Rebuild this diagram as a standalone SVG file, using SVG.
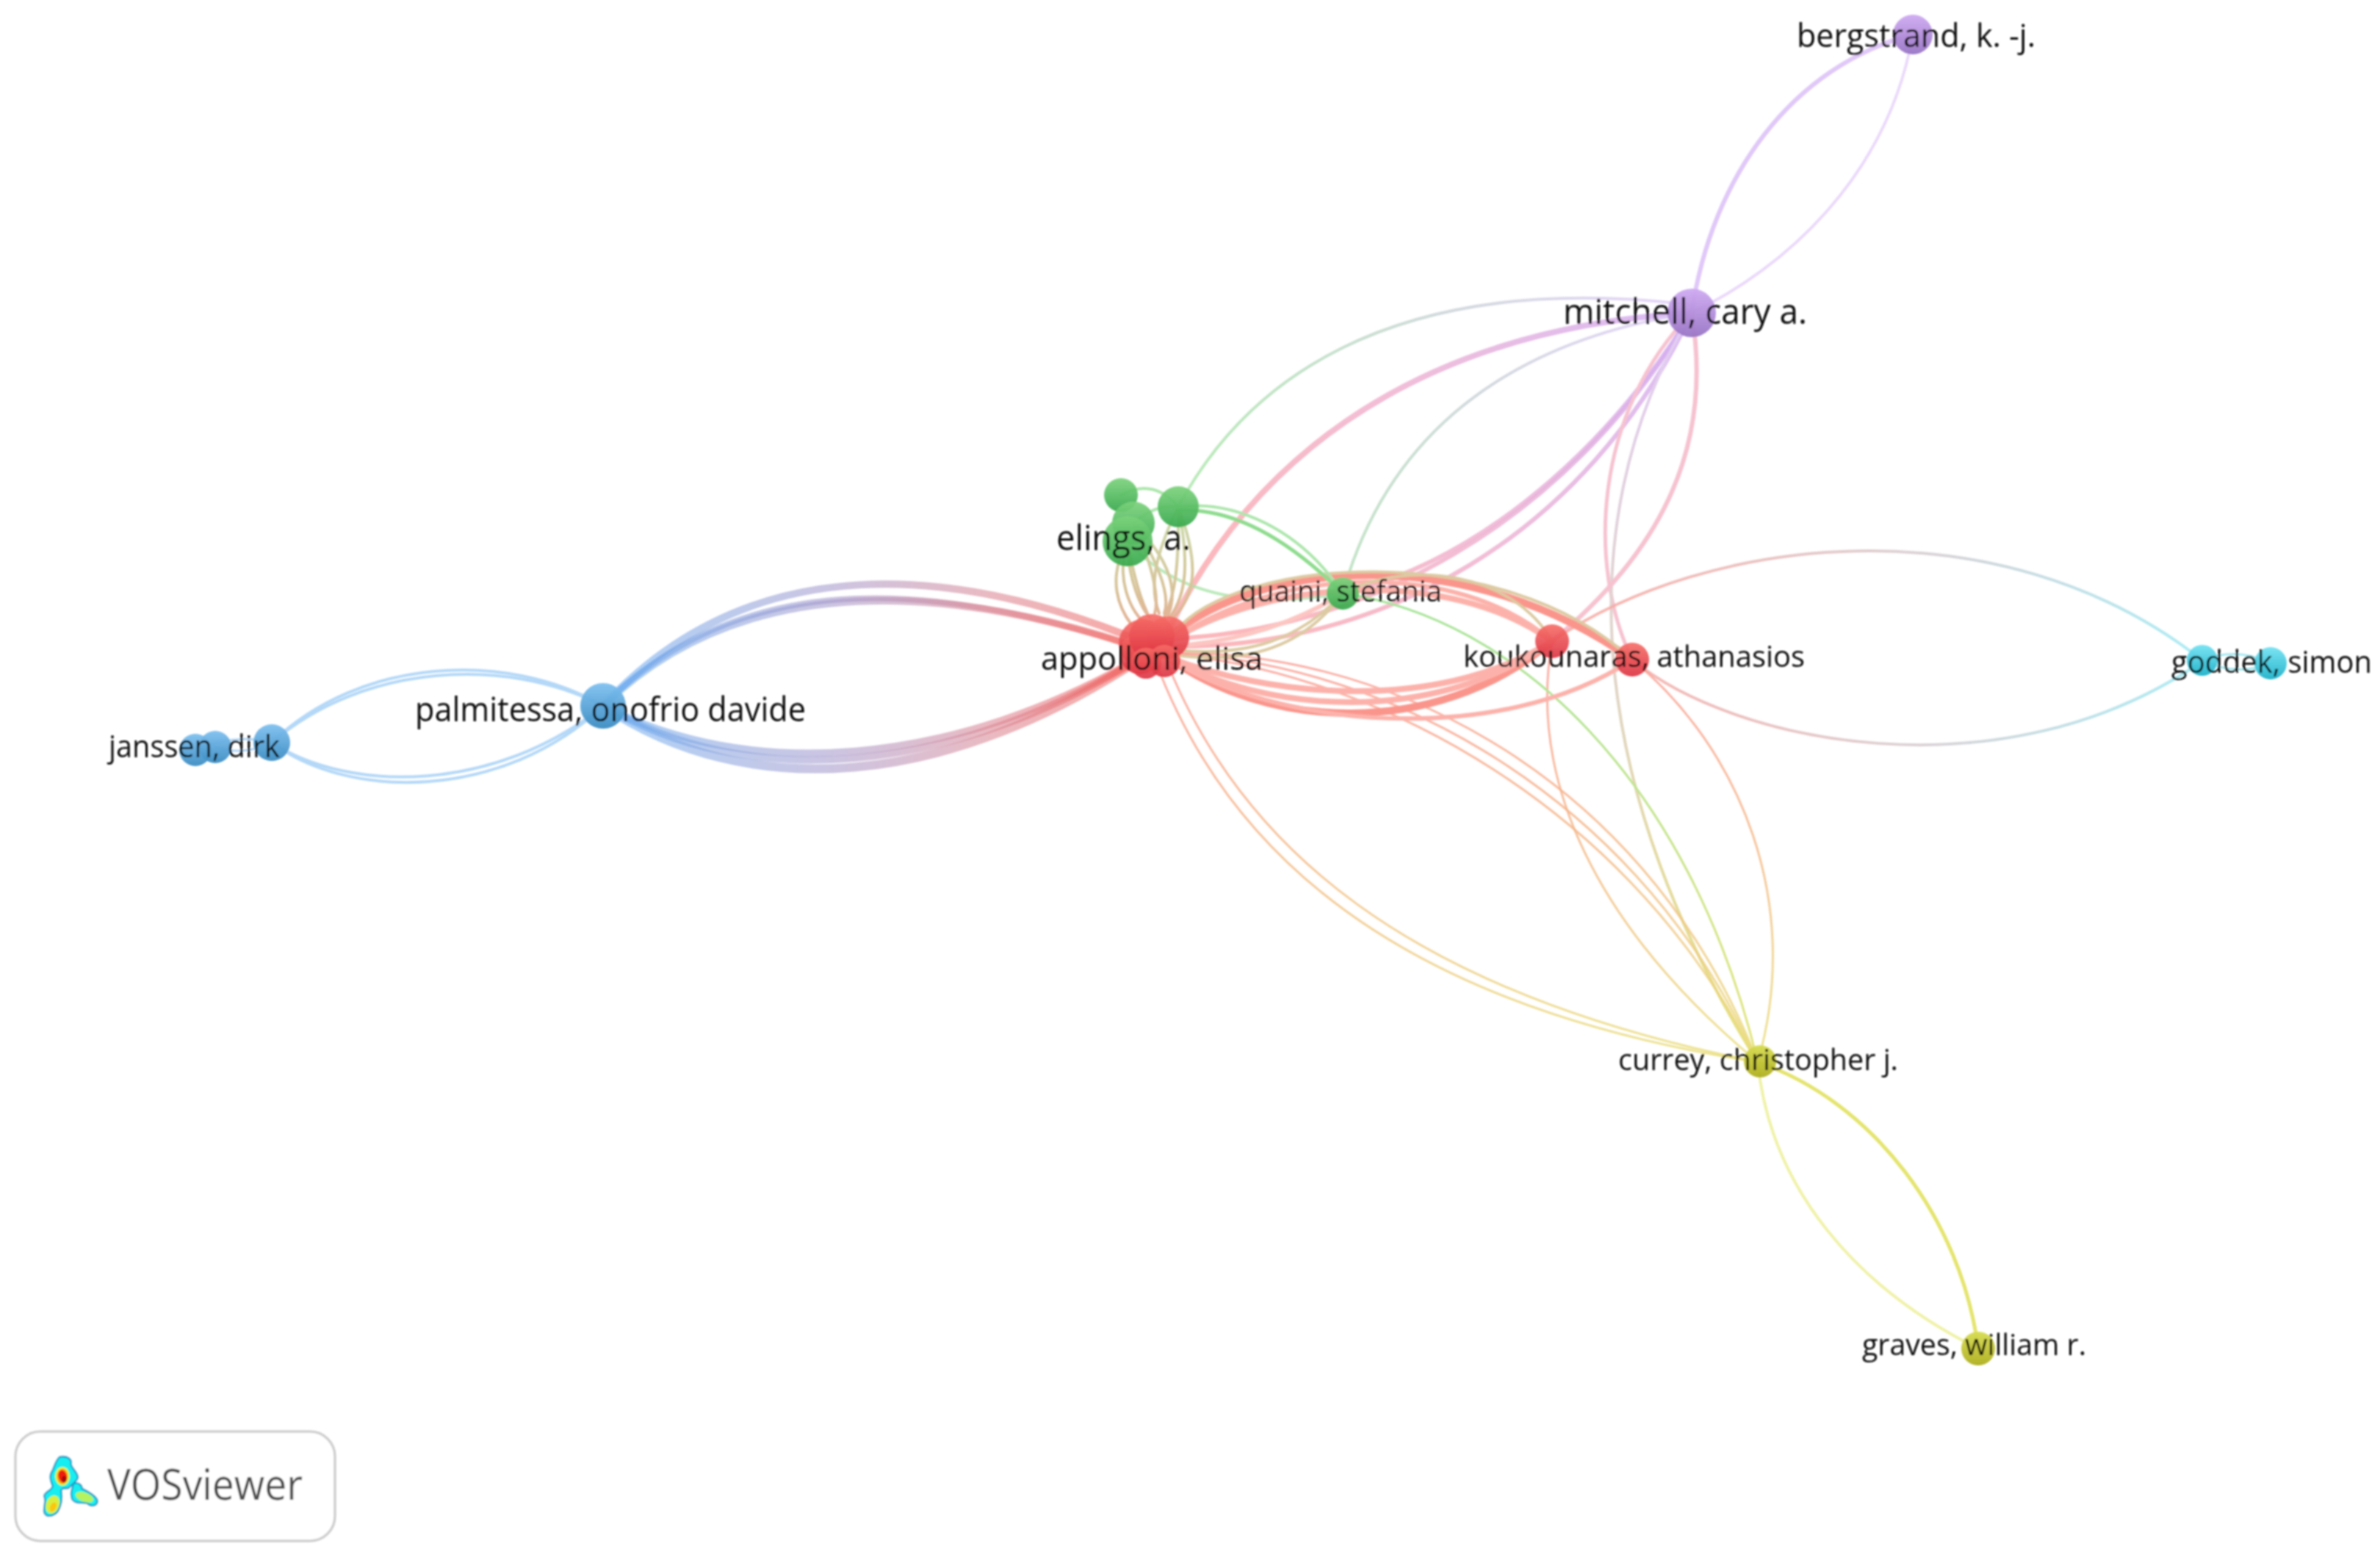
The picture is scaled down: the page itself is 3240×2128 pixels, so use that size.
<svg xmlns="http://www.w3.org/2000/svg" width="3240" height="2128" viewBox="0 0 3240 2128">
<style>
text{font-family:"Open Sans","Noto Sans","Liberation Sans",sans-serif;fill:#0c0c0c}
.e{fill:none;stroke-linecap:round}
.w3{stroke-width:3}.w4{stroke-width:4}.w5{stroke-width:5}.w6{stroke-width:6}.w8{stroke-width:8}.w10{stroke-width:10}.w12{stroke-width:12}
.br{stroke:url(#gBR);opacity:.55}.lb{stroke:#b4d8f8}.ppr{stroke:url(#gPR);opacity:.82}.gp{stroke:url(#gGP);opacity:.75}.rc{stroke:url(#gRC);opacity:.85}.ry{stroke:url(#gRY);opacity:.8}.py{stroke:url(#gPY)}.gy{stroke:url(#gGY)}.gr{stroke:url(#gGR)}
.lav{stroke:#e0c8f8}.lav2{stroke:#ead9fb}.coral{stroke:#fa958c}.coral2{stroke:#fcb2ab}.pale{stroke:#fcc6c2}.olive{stroke:#dccaa2}.lg{stroke:#ace6ac}.lg2{stroke:#8edc8e}.yel{stroke:#e4e46c}.yel2{stroke:#eff2a6}.cy{stroke:#a6e8f0}.pk{stroke:#f6c2d0}
.red{fill:url(#nR)}.grn{fill:url(#nG)}.blu{fill:url(#nB)}.pur{fill:url(#nP)}.cyn{fill:url(#nC)}.ylw{fill:url(#nY)}
</style>
<defs>
<filter id="soft" x="0" y="0" width="3240" height="2128" filterUnits="userSpaceOnUse"><feGaussianBlur stdDeviation="0.8"/></filter>
<linearGradient id="gBR" gradientUnits="userSpaceOnUse" x1="840" y1="0" x2="1550" y2="0"><stop offset="0" stop-color="#6aaaf0"/><stop offset=".42" stop-color="#a294c8"/><stop offset=".72" stop-color="#d8808e"/><stop offset="1" stop-color="#f4605a"/></linearGradient>
<linearGradient id="gPR" gradientUnits="userSpaceOnUse" x1="1650" y1="800" x2="2260" y2="440"><stop offset="0" stop-color="#fba8ad"/><stop offset=".5" stop-color="#eeb0cf"/><stop offset="1" stop-color="#d4adf0"/></linearGradient>
<linearGradient id="gGP" gradientUnits="userSpaceOnUse" x1="1640" y1="650" x2="2280" y2="430"><stop offset="0" stop-color="#a2e2a2"/><stop offset=".6" stop-color="#c4ccd4"/><stop offset="1" stop-color="#dcc8f6"/></linearGradient>
<linearGradient id="gRC" gradientUnits="userSpaceOnUse" x1="2200" y1="0" x2="2980" y2="0"><stop offset="0" stop-color="#f6aaa4"/><stop offset=".5" stop-color="#d8c8cc"/><stop offset="1" stop-color="#a0e8f2"/></linearGradient>
<linearGradient id="gRY" gradientUnits="userSpaceOnUse" x1="0" y1="900" x2="0" y2="1446"><stop offset="0" stop-color="#fb9c92"/><stop offset=".45" stop-color="#f4b684"/><stop offset="1" stop-color="#e8de78"/></linearGradient>
<linearGradient id="gPY" gradientUnits="userSpaceOnUse" x1="0" y1="440" x2="0" y2="1440"><stop offset="0" stop-color="#e2cdf4"/><stop offset=".5" stop-color="#e0d4c4"/><stop offset="1" stop-color="#e6e07a"/></linearGradient>
<linearGradient id="gGY" gradientUnits="userSpaceOnUse" x1="0" y1="820" x2="0" y2="1440"><stop offset="0" stop-color="#a6e49a"/><stop offset="1" stop-color="#e4e47a"/></linearGradient>
<linearGradient id="gGR" gradientUnits="userSpaceOnUse" x1="0" y1="720" x2="0" y2="860"><stop offset="0" stop-color="#ccd6a8"/><stop offset=".6" stop-color="#d8c298"/><stop offset="1" stop-color="#e8ac94"/></linearGradient>
<linearGradient id="nR" x1="0" y1="0" x2="0" y2="1"><stop offset="0" stop-color="#f76d66" stop-opacity=".9"/><stop offset="1" stop-color="#dc3040" stop-opacity=".9"/></linearGradient>
<linearGradient id="nG" x1="0" y1="0" x2="0" y2="1"><stop offset="0" stop-color="#7cd27c" stop-opacity=".92"/><stop offset="1" stop-color="#34a84a" stop-opacity=".92"/></linearGradient>
<linearGradient id="nB" x1="0" y1="0" x2="0" y2="1"><stop offset="0" stop-color="#7fc0f0" stop-opacity=".95"/><stop offset="1" stop-color="#3a8cc2" stop-opacity=".95"/></linearGradient>
<linearGradient id="nP" x1="0" y1="0" x2="0" y2="1"><stop offset="0" stop-color="#cfaaf2" stop-opacity=".95"/><stop offset="1" stop-color="#9874c4" stop-opacity=".95"/></linearGradient>
<linearGradient id="nC" x1="0" y1="0" x2="0" y2="1"><stop offset="0" stop-color="#74e2f2" stop-opacity=".95"/><stop offset="1" stop-color="#1eb2ca" stop-opacity=".95"/></linearGradient>
<linearGradient id="nY" x1="0" y1="0" x2="0" y2="1"><stop offset="0" stop-color="#d6dc52" stop-opacity=".95"/><stop offset="1" stop-color="#aeae1c" stop-opacity=".95"/></linearGradient>
</defs>
<rect width="3240" height="2128" fill="#fff"/>
<g filter="url(#soft)">
<g id="connectors">
<path class="e br w10" d="M821 961C1020 745 1300 765 1570 880"/>
<path class="e br w10" d="M821 961C1015 772 1300 795 1570 888"/>
<path class="e br w8" d="M821 961C1018 762 1290 795 1570 888"/>
<path class="e br w12" d="M821 961C1015 1092 1290 1078 1570 885"/>
<path class="e br w10" d="M821 961C1015 1075 1292 1062 1570 885"/>
<path class="e br w10" d="M821 961C1015 1062 1295 1050 1570 885"/>
<path class="e lb w4" d="M370 1011C490 895 690 885 821 961"/>
<path class="e lb w4" d="M370 1011C495 903 690 893 821 961"/>
<path class="e lb w4" d="M370 1011C475 1090 685 1090 821 961"/>
<path class="e lb w4" d="M370 1011C475 1080 675 1080 821 961"/>
<path class="e lb w3" d="M266 1021Q320 998 370 1011"/>
<path class="e lb w3" d="M293 1017Q330 1030 370 1011"/>
<path class="e lav w6" d="M2303 426C2330 240 2440 90 2604 47"/>
<path class="e lav2 w4" d="M2303 426C2430 365 2570 240 2604 47"/>
<path class="e gp w4" d="M1604 690C1690 530 1880 365 2303 415"/>
<path class="e ppr w8" d="M1590 860C1690 650 1900 450 2303 426"/>
<path class="e gp w4" d="M1828 808C1880 620 2020 470 2303 426"/>
<path class="e ppr w6" d="M1590 870C1850 860 2130 720 2303 426"/>
<path class="e ppr w6" d="M1590 880C1880 885 2160 730 2303 426"/>
<path class="e ppr w6" d="M1828 808C1990 770 2170 640 2303 426"/>
<path class="e pk w5" d="M2303 426C2170 560 2160 770 2222 898"/>
<path class="e py w4" d="M2303 426C2125 720 2170 1090 2393 1446"/>
<path class="e pk w6" d="M2303 426C2335 620 2250 760 2113 873"/>
<path class="e rc w4" d="M2113 873C2320 730 2720 680 2998 899"/>
<path class="e rc w4" d="M2222 898C2355 1010 2725 1090 3000 899"/>
<path class="e cy w3" d="M2998 899Q3045 880 3091 903"/>
<path class="e cy w3" d="M2998 899Q3045 922 3091 903"/>
<path class="e ry w3" d="M2222 898C2370 1020 2455 1230 2393 1446"/>
<path class="e ry w3" d="M2113 873C2080 1060 2170 1260 2393 1446"/>
<path class="e gp w4" d="M1535 737C1600 810 1700 830 1828 808"/>
<path class="e gy w3" d="M1828 808C2060 840 2300 1060 2393 1446"/>
<path class="e ry w3" d="M1590 890C1850 880 2230 1030 2393 1446"/>
<path class="e ry w3" d="M1590 890C1840 895 2215 1050 2393 1446"/>
<path class="e ry w3" d="M1590 890C1830 910 2200 1065 2393 1446"/>
<path class="e ry w3" d="M1573 900C1670 1160 1900 1370 2393 1446"/>
<path class="e ry w3" d="M1590 905C1690 1150 1910 1350 2393 1446"/>
<path class="e yel w5" d="M2393 1446C2550 1500 2670 1660 2693 1836"/>
<path class="e yel2 w4" d="M2393 1446C2410 1620 2530 1755 2693 1836"/>
<path class="e coral w10" d="M1590 868C1720 760 2000 740 2222 898"/>
<path class="e coral2 w8" d="M1590 875C1720 790 1970 770 2113 873"/>
<path class="e coral2 w6" d="M1590 875C1740 770 1980 760 2113 873"/>
<path class="e pale w6" d="M1590 880C1680 875 1760 850 1828 808"/>
<path class="e olive w4" d="M1600 860C1680 760 2040 730 2222 898"/>
<path class="e olive w4" d="M1828 808C1920 760 2060 780 2113 873"/>
<path class="e olive w4" d="M1828 808C1770 870 1700 895 1600 885"/>
<path class="e olive w4" d="M1828 808C1775 880 1700 905 1600 892"/>
<path class="e coral w10" d="M1590 895C1720 990 1950 1010 2113 873"/>
<path class="e coral2 w8" d="M1590 895C1720 970 1950 990 2113 873"/>
<path class="e coral2 w8" d="M1590 895C1720 945 1950 975 2113 873"/>
<path class="e coral2 w6" d="M1590 895C1730 990 2040 1020 2222 898"/>
<path class="e gr w4" d="M1535 737C1505 790 1525 830 1540 850"/>
<path class="e gr w4" d="M1535 737C1518 790 1540 830 1555 845"/>
<path class="e gr w4" d="M1535 737C1535 790 1555 830 1565 840"/>
<path class="e gr w4" d="M1535 737C1545 795 1555 820 1562 835"/>
<path class="e gr w4" d="M1543 712C1570 770 1578 815 1572 835"/>
<path class="e gr w4" d="M1543 712C1585 780 1592 815 1585 835"/>
<path class="e gr w4" d="M1604 690C1570 760 1565 800 1578 835"/>
<path class="e gr w4" d="M1543 712C1600 770 1602 810 1590 838"/>
<path class="e gr w4" d="M1604 690C1634 770 1627 810 1598 840"/>
<path class="e gr w4" d="M1604 690C1620 770 1614 810 1593 840"/>
<path class="e gr w4" d="M1604 690C1605 770 1600 810 1585 840"/>
<path class="e lg w4" d="M1604 690C1680 680 1770 720 1828 808"/>
<path class="e lg2 w5" d="M1604 695C1690 690 1770 750 1828 808"/>
<path class="e lg w4" d="M1526 674Q1570 650 1604 690"/>
<path class="e lg w4" d="M1543 712Q1575 685 1604 690"/>
</g>
<g id="node-appolloni-elisa">
<circle class="red" cx="1556" cy="876" r="33"/><circle class="red" cx="1552" cy="890" r="28"/><circle class="red" cx="1568" cy="867" r="31"/><circle class="red" cx="1590" cy="868" r="29"/><circle class="red" cx="1560" cy="903" r="21"/><circle class="red" cx="1585" cy="900" r="22"/>
<text x="1417" y="912" font-size="44" textLength="302" lengthAdjust="spacingAndGlyphs">appolloni, elisa</text>
</g>
<g id="node-green-a"><circle class="grn" cx="1526" cy="674" r="23"/></g>
<g id="node-green-b"><circle class="grn" cx="1604" cy="690" r="28"/></g>
<g id="node-green-c"><circle class="grn" cx="1543" cy="712" r="29"/></g>
<g id="node-elings-a"><circle class="grn" cx="1535" cy="737" r="34"/>
<text x="1438" y="749" font-size="48" textLength="183" lengthAdjust="spacingAndGlyphs">elings, a.</text></g>
<g id="node-quaini-stefania"><circle class="grn" cx="1828" cy="808" r="22"/>
<text x="1687" y="819" font-size="40" textLength="276" lengthAdjust="spacingAndGlyphs">quaini, stefania</text></g>
<g id="node-red-b"><circle class="red" cx="2113" cy="873" r="23"/></g>
<g id="node-koukounaras-athanasios"><circle class="red" cx="2222" cy="898" r="23"/>
<text x="1992" y="908" font-size="41" textLength="465" lengthAdjust="spacingAndGlyphs">koukounaras, athanasios</text></g>
<g id="node-blue-a"><circle class="blu" cx="266" cy="1021" r="22"/></g>
<g id="node-blue-b"><circle class="blu" cx="293" cy="1017" r="22"/></g>
<g id="node-janssen-dirk"><circle class="blu" cx="370" cy="1011" r="25"/>
<text x="148" y="1031" font-size="42" textLength="233" lengthAdjust="spacingAndGlyphs">janssen, dirk</text></g>
<g id="node-palmitessa-onofrio-davide"><circle class="blu" cx="821" cy="961" r="31"/>
<text x="565" y="982" font-size="46" textLength="532" lengthAdjust="spacingAndGlyphs">palmitessa, onofrio davide</text></g>
<g id="node-mitchell-cary-a"><circle class="pur" cx="2303" cy="426" r="33"/>
<text x="2128" y="441" font-size="48" textLength="332" lengthAdjust="spacingAndGlyphs">mitchell, cary a.</text></g>
<g id="node-bergstrand-k-j"><circle class="pur" cx="2604" cy="47" r="27"/>
<text x="2446" y="64" font-size="44" textLength="325" lengthAdjust="spacingAndGlyphs">bergstrand, k. -j.</text></g>
<g id="node-cyan-a"><circle class="cyn" cx="2998" cy="899" r="21"/></g>
<g id="node-goddek-simon"><circle class="cyn" cx="3091" cy="903" r="22"/>
<text x="2956" y="916" font-size="42" textLength="273" lengthAdjust="spacingAndGlyphs">goddek, simon</text></g>
<g id="node-currey-christopher-j"><circle class="ylw" cx="2396" cy="1445" r="22"/>
<text x="2203" y="1457" font-size="41" textLength="381" lengthAdjust="spacingAndGlyphs">currey, christopher j.</text></g>
<g id="node-graves-william-r"><circle class="ylw" cx="2693" cy="1836" r="23"/>
<text x="2535" y="1845" font-size="41" textLength="305" lengthAdjust="spacingAndGlyphs">graves, william r.</text></g>
<g id="vosviewer-logo">
<rect x="21" y="1949" width="435" height="149" rx="34" fill="#fff" stroke="#cfcfcf" stroke-width="3.5"/>
<g transform="translate(0 1930) scale(.33333)">
<path d="M245 160C275 155 295 170 290 190C290 205 320 225 318 245C315 262 295 270 280 288C262 292 252 285 250 300C255 330 250 360 235 385C215 405 185 410 180 385C178 360 190 340 180 320C185 300 210 300 215 280C205 255 200 235 215 215C225 190 230 170 245 160Z" fill="#12eef2" stroke="#1c9cc6" stroke-width="7"/>
<path d="M300 270C320 262 335 275 335 290C355 300 395 320 398 340C398 360 375 368 355 350C335 345 310 355 295 335C285 310 295 290 300 270Z" fill="#12eef2" stroke="#1c9cc6" stroke-width="7"/>
<ellipse cx="345" cy="325" rx="38" ry="19" transform="rotate(20 345 325)" fill="#b6f25e"/>
<ellipse cx="215" cy="355" rx="27" ry="38" transform="rotate(20 215 355)" fill="#d8f03e"/>
<ellipse cx="217" cy="365" rx="12" ry="20" transform="rotate(25 217 365)" fill="#fcc60c"/>
<ellipse cx="255" cy="240" rx="30" ry="38" fill="#e6f03a"/>
<ellipse cx="255" cy="240" rx="22" ry="31" fill="#fb9a10"/>
<ellipse cx="256" cy="240" rx="17" ry="26" transform="rotate(-15 256 240)" fill="#ee1a10"/>
<ellipse cx="262" cy="252" rx="9" ry="13" fill="#a00808"/>
</g>
<text x="146" y="2042" font-size="58" textLength="266" lengthAdjust="spacingAndGlyphs" style="fill:#4c4c4c">VOSviewer</text>
</g>
</g>
</svg>
